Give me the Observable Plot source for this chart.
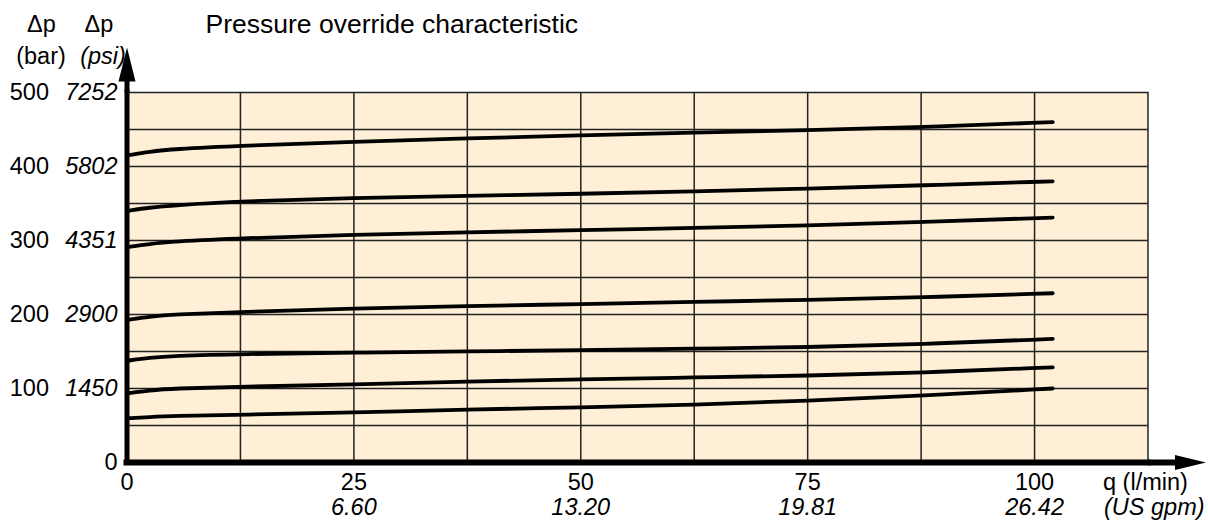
<!DOCTYPE html>
<html><head><meta charset="utf-8">
<script src="https://cdn.jsdelivr.net/npm/d3@7"></script>
<script src="https://cdn.jsdelivr.net/npm/@observablehq/plot@0.6"></script>
<style>body{margin:0;background:#fff;}</style>
</head><body><div id="chart"></div>
<script>
// Flow rate q (l/min) sample points
const flow = [0, 2.5, 5, 12.5, 25, 37.5, 50, 62.5, 75, 87.5, 102];
// Pressure override curves Δp (bar)
const curve1 = [415, 420, 423.5, 428, 433.5, 438, 442, 446, 449, 453, 460];
const curve2 = [340, 344.5, 347.5, 353, 357.5, 360.5, 363, 366.5, 370, 374.5, 380];
const curve3 = [291, 295.5, 298.5, 303, 308, 311, 314, 317, 320, 325, 331];
const curve4 = [192.5, 197, 200, 203.5, 208, 211.5, 214, 217, 219.7, 223, 228.7];
const curve5 = [137.5, 141.5, 144, 146.7, 148.4, 150.2, 151.6, 154, 155.6, 160, 167];
const curve6 = [93.5, 97.5, 100, 102.4, 105.5, 109.6, 112.3, 115, 117.3, 121.4, 128.6];
const curve7 = [59.5, 61.5, 63, 64.5, 67.5, 71.7, 74.4, 78, 83.5, 90.3, 100];

const flowTicks = [0, 25, 50, 75, 100];
const flowLabels = ["0", "25", "50", "75", "100"];
const gpmLabels = ["", "6.60", "13.20", "19.81", "26.42"];
const pressureTicks = [100, 200, 300, 400, 500];
const barLabels = ["100", "200", "300", "400", "500"];
const psiLabels = ["1450", "2900", "4351", "5802", "7252"];
const xGrid = [12.5, 25, 37.5, 50, 62.5, 75, 87.5, 100];
const yGrid = [50, 100, 150, 200, 250, 300, 350, 400, 450];
const xMax = 112.5, yMax = 500;

const title = "Pressure override characteristic";
const xUnit = "q (l/min)", xUnit2 = "(US gpm)";

const curves = [curve1, curve2, curve3, curve4, curve5, curve6, curve7];
const rows = curves.flatMap((c, i) => flow.map((q, j) => ({q, p: c[j], curve: i})));

const FS = 23.5;
const TFS = 26.5;
const font = "'Liberation Sans', Arial, Helvetica, sans-serif";

const upArrow = {draw(ctx) {
  ctx.moveTo(-2.5, 0); ctx.lineTo(-2.5, -11); ctx.lineTo(-8.5, -11); ctx.lineTo(0, -45);
  ctx.lineTo(8.5, -11); ctx.lineTo(2.5, -11); ctx.lineTo(2.5, 0); ctx.closePath();
}};
const rightArrow = {draw(ctx) {
  ctx.moveTo(0, -3); ctx.lineTo(27, -3); ctx.lineTo(27, -7.5); ctx.lineTo(58, 0);
  ctx.lineTo(27, 7.5); ctx.lineTo(27, 3); ctx.lineTo(0, 3); ctx.closePath();
}};

const chart = Plot.plot({
  width: 1208, height: 520,
  marginLeft: 126.5, marginRight: 60.5, marginTop: 92, marginBottom: 58,
  style: {fontFamily: font, fontSize: FS + "px", background: "#fff"},
  x: {domain: [0, xMax], axis: null},
  y: {domain: [0, yMax], axis: null},
  marks: [
    Plot.frame({fill: "#FEEFD6", stroke: "#222", strokeWidth: 1.5}),
    Plot.ruleX(xGrid, {stroke: "#222", strokeWidth: 1.5}),
    Plot.ruleY(yGrid, {stroke: "#222", strokeWidth: 1.5}),
    Plot.line(rows, {x: "q", y: "p", z: "curve", stroke: "#000", strokeWidth: 3.8, curve: "basis"}),
    // y tick labels
    Plot.text(pressureTicks, {x: 0, y: d => d, text: (d, i) => barLabels[i], textAnchor: "end", dx: -78, fontSize: FS}),
    Plot.text(pressureTicks, {x: 0, y: d => d, text: (d, i) => psiLabels[i], textAnchor: "end", dx: -9.5, fontSize: FS, fontStyle: "italic"}),
    Plot.text([0], {x: 0, y: 0, text: ["0"], textAnchor: "end", dx: -9.5, fontSize: FS}),
    // x tick labels
    Plot.text(flowTicks, {x: d => d, y: 0, text: (d, i) => flowLabels[i], dy: 20, fontSize: FS}),
    Plot.text(flowTicks, {x: d => d, y: 0, text: (d, i) => gpmLabels[i], dy: 44.5, fontSize: FS, fontStyle: "italic"}),
    Plot.text([xUnit], {x: xMax, y: 0, text: d => d, textAnchor: "start", dx: -45, dy: 20, fontSize: FS}),
    Plot.text([xUnit2], {x: xMax, y: 0, text: d => d, textAnchor: "start", dx: -44, dy: 44.5, fontSize: FS, fontStyle: "italic"}),
    // header
    Plot.text([title], {x: 0, y: yMax, text: d => d, textAnchor: "start", dx: 78.5, dy: -68, fontSize: TFS}),
    Plot.text(["Δp"], {x: 0, y: yMax, text: d => d, dx: -85.5, dy: -68, fontSize: FS}),
    Plot.text(["(bar)"], {x: 0, y: yMax, text: d => d, dx: -86, dy: -36, fontSize: FS}),
    Plot.text(["Δp"], {x: 0, y: yMax, text: d => d, dx: -28, dy: -68, fontSize: FS}),
    Plot.text(["(psi)"], {x: 0, y: yMax, text: d => d, dx: -24, dy: -36, fontSize: FS, fontStyle: "italic"}),
    // axes with arrowheads
    Plot.ruleX([0], {y1: 0, y2: yMax, stroke: "#000", strokeWidth: 5, strokeLinecap: "square"}),
    Plot.ruleY([0], {x1: 0, x2: xMax, stroke: "#000", strokeWidth: 6, strokeLinecap: "square"}),
    Plot.dot([{q: 0, p: yMax}], {x: "q", y: "p", symbol: upArrow, fill: "#000", stroke: null}),
    Plot.dot([{q: xMax, p: 0}], {x: "q", y: "p", symbol: rightArrow, fill: "#000", stroke: null})
  ]
});
document.getElementById("chart").appendChild(chart);
</script>
</body></html>
